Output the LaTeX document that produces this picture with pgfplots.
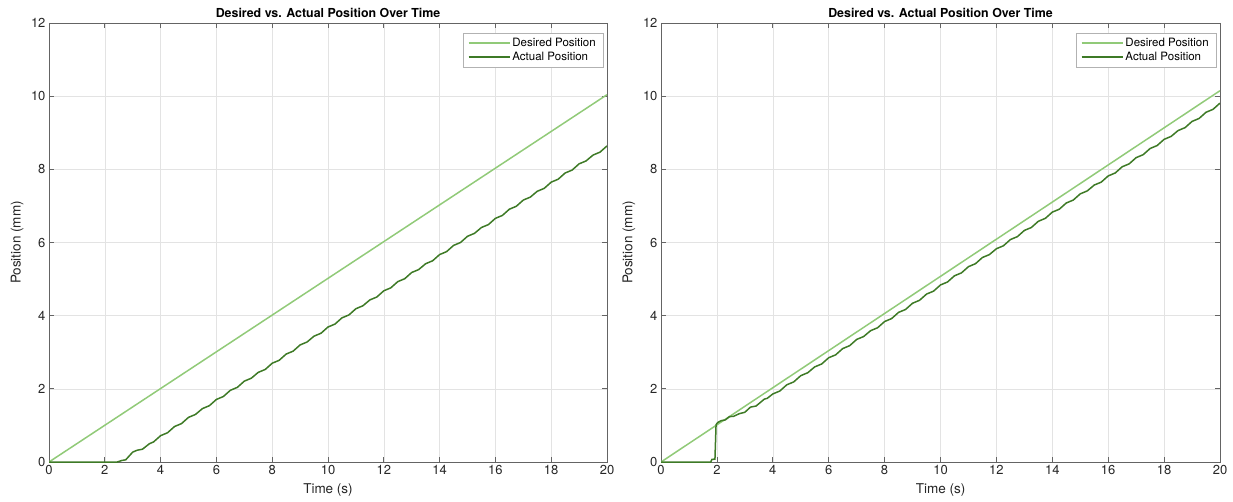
\documentclass[border=0pt]{standalone}
\usepackage{fontspec}
\setmainfont{TeX Gyre Heros}
\usepackage{pgfplots}
\pgfplotsset{compat=1.18}
\definecolor{desgreen}{RGB}{145,202,120}
\definecolor{actgreen}{RGB}{62,122,38}
\definecolor{axgray}{RGB}{100,100,100}

\pgfplotsset{
 matstyle/.style={
  scale only axis,width=558pt,height=439pt,
  xmin=0,xmax=20,ymin=0,ymax=12,
  xtick={0,2,...,20},ytick={0,2,...,12},
  grid=major,grid style={gray!22,line width=0.6pt},
  axis line style={axgray,line width=0.7pt},
  tick style={axgray,line width=0.7pt},
  tick align=inside,major tick length=5pt,
  /pgf/number format/assume math mode=true,
  tick label style={font=\fontsize{13}{15}\selectfont,black!85},
  label style={font=\fontsize{13.5}{16}\selectfont,black!85},
  title style={font=\fontsize{12.4}{14}\bfseries,at={(axis description cs:0.5,1)},anchor=center,yshift=4pt},
  xlabel style={at={(axis description cs:0.5,-0.0638)},anchor=center},
  ylabel style={at={(axis description cs:-0.0573,0.5)},anchor=center},
  xlabel={Time (s)},ylabel={Position (mm)},
  title={Desired vs. Actual Position Over Time},
  legend style={at={(1,1)},anchor=north east,xshift=-4pt,yshift=-10pt,
   draw=gray!60,line width=0.5pt,font=\fontsize{11.5}{13.5}\selectfont,
   row sep=0pt,inner xsep=5pt,inner ysep=3pt,cells={anchor=west}},
  legend image code/.code={\draw[##1] (0pt,0pt) -- (41pt,0pt);},
 }
}

\begin{document}
\begin{tikzpicture}
\useasboundingbox (0,0) rectangle (1233pt,501pt);
% left: late start
\begin{axis}[matstyle,at={(49pt,39pt)},anchor=south west]
\addplot[desgreen,line width=1.5pt] coordinates {(0,0) (20,10.04)};
\addlegendentry{Desired Position}
\addplot[actgreen,line width=1.5pt] coordinates {
 (0,0) (2.45,0) (2.6,0.04) (2.75,0.06) (3.0,0.27) (3.15,0.32) (3.35,0.35) (3.6,0.50) (3.75,0.55)
 (4.0,0.72) (4.25,0.80) (4.5,0.97) (4.75,1.05) (5.0,1.22) (5.25,1.30) (5.5,1.46) (5.75,1.54)
 (6.0,1.71) (6.25,1.79) (6.5,1.96) (6.75,2.04) (7.0,2.21) (7.25,2.29) (7.5,2.45) (7.75,2.53)
 (8.0,2.70) (8.25,2.78) (8.5,2.95) (8.75,3.03) (9.0,3.20) (9.25,3.28) (9.5,3.44) (9.75,3.52)
 (10.0,3.69) (10.25,3.77) (10.5,3.94) (10.75,4.02) (11.0,4.19) (11.25,4.27) (11.5,4.43) (11.75,4.51)
 (12.0,4.68) (12.25,4.76) (12.5,4.93) (12.75,5.01) (13.0,5.18) (13.25,5.26) (13.5,5.42) (13.75,5.50)
 (14.0,5.67) (14.25,5.75) (14.5,5.92) (14.75,6.00) (15.0,6.17) (15.25,6.25) (15.5,6.41) (15.75,6.49)
 (16.0,6.66) (16.25,6.74) (16.5,6.91) (16.75,6.99) (17.0,7.16) (17.25,7.24) (17.5,7.40) (17.75,7.48)
 (18.0,7.65) (18.25,7.73) (18.5,7.90) (18.75,7.98) (19.0,8.15) (19.25,8.23) (19.5,8.39) (19.75,8.47)
 (20.0,8.64)};
\addlegendentry{Actual Position}
\end{axis}
% right: jump near 2 s
\begin{axis}[matstyle,at={(661pt,39pt)},anchor=south west,width=559pt]
\addplot[desgreen,line width=1.5pt] coordinates {(0,0) (20,10.15)};
\addlegendentry{Desired Position}
\addplot[actgreen,line width=1.5pt] coordinates {
 (0,0) (1.78,0) (1.82,0.07) (1.93,0.08) (1.97,1.02) (2.03,1.08) (2.15,1.13) (2.3,1.15) (2.45,1.24)
 (2.6,1.25) (2.8,1.32) (3.0,1.36) (3.2,1.50) (3.4,1.53) (3.7,1.72) (3.8,1.74)
 (4.0,1.86) (4.25,1.94) (4.5,2.11) (4.75,2.19) (5.0,2.36) (5.25,2.44) (5.5,2.60) (5.75,2.68)
 (6.0,2.85) (6.25,2.93) (6.5,3.10) (6.75,3.18) (7.0,3.35) (7.25,3.43) (7.5,3.59) (7.75,3.67)
 (8.0,3.84) (8.25,3.92) (8.5,4.09) (8.75,4.17) (9.0,4.34) (9.25,4.42) (9.5,4.59) (9.75,4.67)
 (10.0,4.84) (10.25,4.92) (10.5,5.09) (10.75,5.17) (11.0,5.34) (11.25,5.42) (11.5,5.59) (11.75,5.67)
 (12.0,5.83) (12.25,5.91) (12.5,6.08) (12.75,6.16) (13.0,6.33) (13.25,6.41) (13.5,6.58) (13.75,6.66)
 (14.0,6.83) (14.25,6.91) (14.5,7.08) (14.75,7.16) (15.0,7.33) (15.25,7.41) (15.5,7.57) (15.75,7.65)
 (16.0,7.82) (16.25,7.90) (16.5,8.07) (16.75,8.15) (17.0,8.32) (17.25,8.40) (17.5,8.57) (17.75,8.65)
 (18.0,8.82) (18.25,8.90) (18.5,9.06) (18.75,9.14) (19.0,9.31) (19.25,9.39) (19.5,9.56) (19.75,9.64)
 (20.0,9.81)};
\addlegendentry{Actual Position}
\end{axis}
\end{tikzpicture}
\end{document}
